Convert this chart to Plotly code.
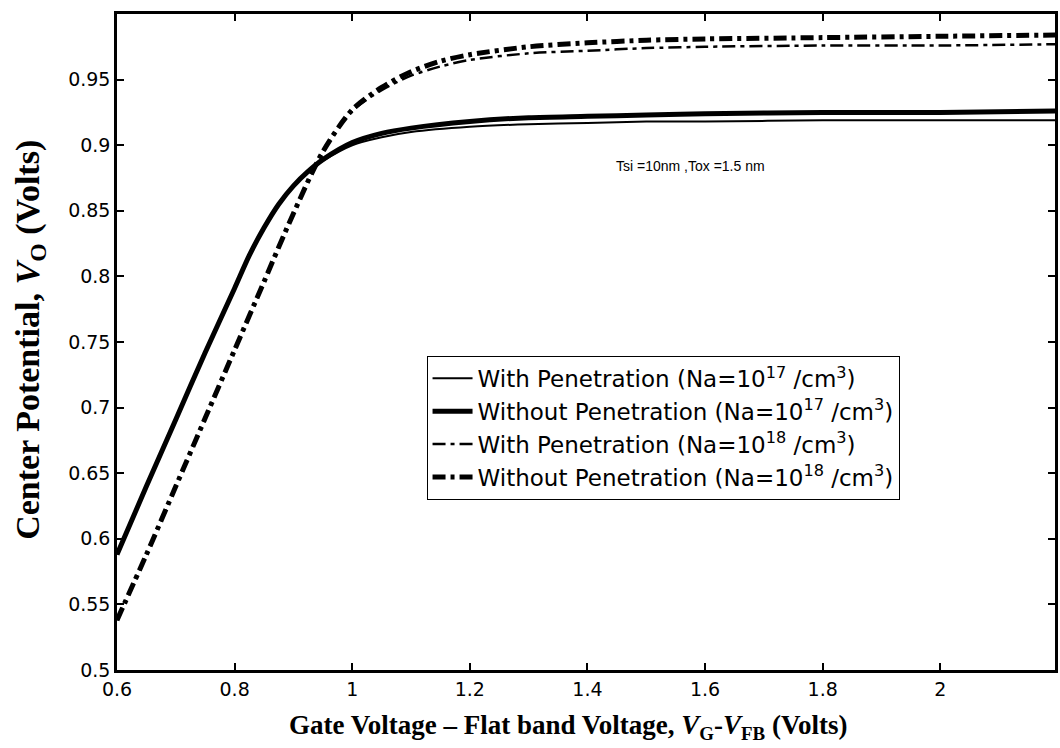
import plotly.graph_objects as go

# Na = 1e17 curves (solid)
x_17 = [0.6, 0.65, 0.7, 0.75, 0.8, 0.825, 0.85, 0.875, 0.9, 0.925, 0.95, 1.0, 1.05, 1.1, 1.2, 1.3, 1.4, 1.5, 1.6, 1.8, 2.0, 2.2]
y_17_without = [0.588, 0.640, 0.691, 0.742, 0.791, 0.816, 0.837, 0.855, 0.869, 0.880, 0.889, 0.902, 0.909, 0.913, 0.918, 0.921, 0.922, 0.923, 0.924, 0.925, 0.925, 0.926]
y_17_with = [0.588, 0.640, 0.691, 0.742, 0.791, 0.816, 0.837, 0.855, 0.869, 0.880, 0.888, 0.900, 0.906, 0.910, 0.914, 0.916, 0.917, 0.918, 0.918, 0.919, 0.919, 0.919]

# Na = 1e18 curves (dash-dot)
x_18 = [0.6, 0.65, 0.7, 0.75, 0.8, 0.85, 0.9, 0.95, 1.0, 1.05, 1.1, 1.15, 1.2, 1.3, 1.4, 1.5, 1.6, 1.8, 2.0, 2.2]
y_18_without = [0.538, 0.588, 0.640, 0.692, 0.744, 0.796, 0.848, 0.895, 0.927, 0.944, 0.956, 0.964, 0.969, 0.975, 0.978, 0.980, 0.981, 0.982, 0.983, 0.984]
y_18_with = [0.538, 0.588, 0.640, 0.692, 0.744, 0.796, 0.848, 0.895, 0.926, 0.942, 0.953, 0.960, 0.965, 0.970, 0.972, 0.974, 0.975, 0.976, 0.976, 0.977]

x_ticks = [0.6, 0.8, 1.0, 1.2, 1.4, 1.6, 1.8, 2.0]
x_tick_text = ["0.6", "0.8", "1", "1.2", "1.4", "1.6", "1.8", "2"]
y_ticks = [0.5, 0.55, 0.6, 0.65, 0.7, 0.75, 0.8, 0.85, 0.9, 0.95]
y_tick_text = ["0.5", "0.55", "0.6", "0.65", "0.7", "0.75", "0.8", "0.85", "0.9", "0.95"]

names = [
    "With Penetration (Na=10<sup>17</sup> /cm<sup>3</sup>)",
    "Without Penetration (Na=10<sup>17</sup> /cm<sup>3</sup>)",
    "With Penetration (Na=10<sup>18</sup> /cm<sup>3</sup>)",
    "Without Penetration (Na=10<sup>18</sup> /cm<sup>3</sup>)",
]

DASHDOT = "13px,5px,4px,5px"
SANS = "DejaVu Sans, Arial"
SERIF = "Liberation Serif, Times New Roman"

fig = go.Figure()
fig.add_trace(go.Scatter(x=x_17, y=y_17_with, mode="lines", name=names[0],
                         line=dict(color="black", width=2, shape="spline", smoothing=0.8)))
fig.add_trace(go.Scatter(x=x_17, y=y_17_without, mode="lines", name=names[1],
                         line=dict(color="black", width=5, shape="spline", smoothing=0.8)))
fig.add_trace(go.Scatter(x=x_18, y=y_18_with, mode="lines", name=names[2],
                         line=dict(color="black", width=2.5, dash=DASHDOT, shape="spline", smoothing=0.8)))
fig.add_trace(go.Scatter(x=x_18, y=y_18_without, mode="lines", name=names[3],
                         line=dict(color="black", width=5, dash=DASHDOT, shape="spline", smoothing=0.8)))

axis_common = dict(
    showgrid=False, zeroline=False, showline=True, linecolor="black", linewidth=2.5,
    mirror="ticks", ticks="inside", ticklen=7, tickwidth=2, tickcolor="black",
    tickfont=dict(family=SANS, size=19, color="black"),
)

fig.update_layout(
    width=1060, height=748,
    margin=dict(l=117, r=2, t=14, b=78),
    paper_bgcolor="white", plot_bgcolor="white",
    showlegend=True,
    legend=dict(
        x=0.33, y=0.479, xanchor="left", yanchor="top",
        bordercolor="black", borderwidth=1, bgcolor="white",
        font=dict(family=SANS, size=23, color="black"),
        tracegroupgap=0, itemwidth=40,
    ),
    xaxis=dict(range=[0.6, 2.195], tickvals=x_ticks, ticktext=x_tick_text, **axis_common),
    yaxis=dict(range=[0.5, 1.0], tickvals=y_ticks, ticktext=y_tick_text, **axis_common),
    annotations=[
        dict(text="Tsi =10nm ,Tox =1.5 nm", x=1.575, y=0.884, xref="x", yref="y",
             showarrow=False, font=dict(family="Liberation Sans, Arial", size=14, color="black")),
        dict(text="<b>Gate Voltage – Flat band Voltage, <i>V</i><sub>G</sub>-<i>V</i><sub>FB</sub> (Volts)</b>",
             x=0.481, y=-0.087, xref="paper", yref="paper", xanchor="center", yanchor="middle",
             showarrow=False, font=dict(family=SERIF, size=27, color="black")),
        dict(text="<b>Center Potential, <i>V</i><sub>O</sub> (Volts)</b>",
             x=-0.093, y=0.503, xref="paper", yref="paper", xanchor="center", yanchor="middle",
             textangle=-90, showarrow=False,
             font=dict(family=SERIF, size=34, color="black")),
    ],
)

fig.write_html("out.html")
